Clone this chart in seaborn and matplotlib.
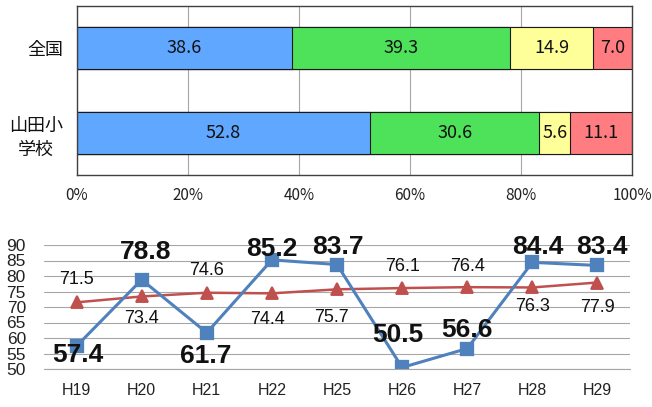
import numpy as np
import pandas as pd
import matplotlib
matplotlib.use("Agg")
import matplotlib.pyplot as plt
import seaborn as sns

# ---- data -------------------------------------------------------------
groups = ["全国", "山田小\n学校"]
seg_a = [38.6, 52.8]
seg_b = [39.3, 30.6]
seg_c = [14.9, 5.6]
seg_d = [7.0, 11.1]
pct_ticks = [0, 20, 40, 60, 80, 100]

years = ["H19", "H20", "H21", "H22", "H25", "H26", "H27", "H28", "H29"]
school_scores = [57.4, 78.8, 61.7, 85.2, 83.7, 50.5, 56.6, 84.4, 83.4]
national_scores = [71.5, 73.4, 74.6, 74.4, 75.7, 76.1, 76.4, 76.3, 77.9]
score_ticks = [50, 55, 60, 65, 70, 75, 80, 85, 90]

# ---- style ------------------------------------------------------------
seg_colors = ["#60A8FF", "#4EE15A", "#FFFF99", "#FF7C80"]
blue_line = "#4F81BD"
red_line = "#C0504D"
grid_gray = "#A6A6A6"

# label offsets in pixels (dx, dy) relative to each point
school_offsets = [(1, -6), (4, 30), (-1, -21), (0, 13), (1, 20),
                  (-4, 35), (0, 21), (5, 18), (4, 21)]
national_offsets = [(0, 25), (0, -20), (0, 24), (-4, -24), (-6, -26),
                    (0, 24), (0, 23), (0, -17), (0, -23)]

sns.set_theme(style="white")
plt.rcParams["font.family"] = ["Noto Sans CJK JP", "DejaVu Sans"]

W, H = 652, 407
fig = plt.figure(figsize=(W / 100, H / 100), dpi=100)

# ---- top: 100% stacked horizontal bars ----------------------------------
ax1 = fig.add_axes([77 / W, (H - 175) / H, 555 / W, 169 / H])
segs = np.array([seg_a, seg_b, seg_c, seg_d])
shares = segs / segs.sum(axis=0) * 100
cum = np.cumsum(shares, axis=0)

for k in reversed(range(len(segs))):
    sns.barplot(x=cum[k], y=groups, orient="h", color=seg_colors[k],
                saturation=1, width=0.5, edgecolor="#1a1a1a", linewidth=0.8,
                ax=ax1, zorder=2)

for k in range(len(segs)):
    for i in range(len(groups)):
        left = cum[k, i] - shares[k, i]
        ax1.text(left + shares[k, i] / 2, i, f"{segs[k, i]:.1f}",
                 ha="center", va="center", fontsize=13, color="#111111",
                 zorder=5)

ax1.set_xlim(0, 100)
ax1.set_ylim(1.5, -0.5)
ax1.set_xticks(pct_ticks)
ax1.set_xticklabels([f"{t}%" for t in pct_ticks])
ax1.xaxis.grid(True, color=grid_gray, linewidth=0.8)
ax1.yaxis.grid(False)
ax1.set_axisbelow(True)
ax1.set_xlabel("")
ax1.set_ylabel("")
ax1.tick_params(axis="x", length=0, pad=9, labelsize=11, colors="#222222")
ax1.tick_params(axis="y", length=0, pad=10, labelsize=13, colors="#111111")
for lab in ax1.get_yticklabels():
    lab.set_multialignment("center")
    lab.set_linespacing(1.45)
for sp in ax1.spines.values():
    sp.set_visible(True)
    sp.set_color("#404040")
    sp.set_linewidth(1.0)

# ---- bottom: score trend lines ------------------------------------------
ax2 = fig.add_axes([44 / W, (H - 369) / H, 586 / W, 124 / H])
df = pd.DataFrame({"year": years, "school": school_scores,
                   "national": national_scores})

sns.pointplot(data=df, x="year", y="national", color=red_line, marker="^",
              markersize=9, linewidth=1.8, errorbar=None, ax=ax2)
sns.pointplot(data=df, x="year", y="school", color=blue_line, marker="s",
              markersize=8.5, linewidth=2.2, errorbar=None, ax=ax2)

ax2.set_xlim(-0.5, len(years) - 0.5)
ax2.set_ylim(50, 90)
ax2.set_yticks(score_ticks)
ax2.yaxis.grid(True, color=grid_gray, linewidth=0.8)
ax2.xaxis.grid(False)
ax2.set_axisbelow(True)
ax2.set_xlabel("")
ax2.set_ylabel("")
for side in ["left", "right", "top"]:
    ax2.spines[side].set_visible(False)
ax2.spines["bottom"].set_color(grid_gray)
ax2.spines["bottom"].set_linewidth(0.8)

ax2.set_xticks(np.arange(-0.5, len(years), 1.0), minor=True)
ax2.tick_params(axis="x", which="major", length=0, pad=10)
ax2.tick_params(axis="x", which="minor", length=4, width=0.8,
                color=grid_gray, direction="out")
ax2.tick_params(axis="y", length=4, width=0.8, color=grid_gray,
                direction="out", pad=9)
for lab in ax2.get_xticklabels():
    lab.set_fontfamily(["Liberation Sans", "DejaVu Sans"])
    lab.set_fontsize(11.5)
    lab.set_color("#222222")
for lab in ax2.get_yticklabels():
    lab.set_fontfamily(["Liberation Sans", "DejaVu Sans"])
    lab.set_fontsize(12.5)
    lab.set_color("#222222")


def put_labels(values, offsets, size, weight):
    em = size * 100 / 72
    for i, (v, (dx, dy)) in enumerate(zip(values, offsets)):
        ax2.annotate(f"{v:.1f}", (i, v), xytext=(dx, dy - 0.358 * em),
                     textcoords="offset pixels", ha="center", va="baseline",
                     fontsize=size, fontweight=weight, color="#111111",
                     family=["Liberation Sans", "DejaVu Sans"],
                     annotation_clip=False, zorder=6)


put_labels(national_scores, national_offsets, 13, "normal")
put_labels(school_scores, school_offsets, 19, "bold")

fig.savefig("out.png", dpi=100)
